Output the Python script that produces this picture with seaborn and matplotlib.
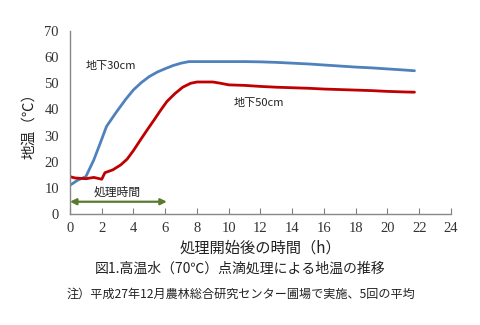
import matplotlib
matplotlib.use("Agg")
import matplotlib.pyplot as plt
import seaborn as sns
import pandas as pd

sns.set_theme(style="white")
plt.rcParams['font.family'] = ['Noto Sans CJK JP', 'DejaVu Sans']

hours_30 = [0, 0.5, 1.0, 1.5, 1.9, 2.3, 2.9, 3.5, 4.0, 4.5, 5.0, 5.5, 6.0, 6.5, 7.0, 7.5,
            8, 9, 10, 11, 12, 13, 14, 15, 16, 17, 18, 19, 20, 21, 21.7]
temp_30 = [11.0, 13.0, 14.3, 20.7, 27.0, 33.5, 38.8, 43.8, 47.5, 50.3, 52.6, 54.3, 55.6, 56.8, 57.7, 58.3,
           58.3, 58.3, 58.3, 58.3, 58.2, 58.0, 57.7, 57.4, 57.0, 56.6, 56.2, 55.9, 55.5, 55.1, 54.8]

hours_50 = [0, 0.3, 1.0, 1.5, 2.0, 2.2, 2.7, 3.2, 3.6, 4.0, 4.4, 4.9, 5.3, 5.7, 6.1, 6.6, 7.1, 7.6,
            8, 9, 9.5, 10, 11, 12, 13, 14, 15, 16, 17, 18, 19, 20, 21, 21.7]
temp_50 = [14.3, 13.8, 13.5, 14.0, 13.3, 15.8, 16.9, 18.8, 21.0, 24.3, 28.0, 32.5, 36.0, 39.6, 43.0, 46.0, 48.5, 50.0,
           50.5, 50.5, 50.0, 49.4, 49.2, 48.8, 48.5, 48.3, 48.1, 47.8, 47.6, 47.4, 47.2, 46.9, 46.7, 46.6]

series_names = ['地下30cm', '地下50cm']
x_ticks = list(range(0, 25, 2))
y_ticks = list(range(0, 71, 10))

df = pd.DataFrame({
    'h': hours_30 + hours_50,
    't': temp_30 + temp_50,
    's': [series_names[0]] * len(hours_30) + [series_names[1]] * len(hours_50),
})

fig = plt.figure(figsize=(4.81, 3.25), dpi=100)
ax = fig.add_axes([0.1455, 0.3415, 0.7921, 0.5631])

sns.lineplot(data=df, x='h', y='t', hue='s', palette=['#4F81BD', '#C00000'],
             linewidth=2.0, legend=False, ax=ax, sort=False)

ax.set_xlim(0, 24)
ax.set_ylim(0, 70)
ax.set_xticks(x_ticks)
ax.set_yticks(y_ticks)
tick_font = {'family': ['Liberation Serif', 'DejaVu Serif'], 'size': 10.5}
ax.set_xticklabels([str(v) for v in x_ticks], fontdict=tick_font, color='#333333')
ax.set_yticklabels([str(v) for v in y_ticks], fontdict=tick_font, color='#333333')
ax.tick_params(axis='x', direction='in', length=4, width=0.8, color='#808080', pad=6, bottom=True)
ax.tick_params(axis='y', length=0, pad=8)
for side in ['top', 'right']:
    ax.spines[side].set_visible(False)
for side in ['left', 'bottom']:
    ax.spines[side].set_color('#888888')
    ax.spines[side].set_linewidth(1.0)

ax.set_xlabel('処理開始後の時間（h）', fontsize=11, color='#222222', labelpad=3)
ax.set_ylabel('地温（℃）', fontsize=10.5, color='#222222', labelpad=6)

ax.text(1.0, 56.5, series_names[0], fontsize=8, va='center', ha='left', color='#222222')
ax.text(10.3, 42.5, series_names[1], fontsize=8, va='center', ha='left', color='#222222')

ax.annotate('', xy=(0, 4.7), xytext=(6.1, 4.7),
            arrowprops=dict(arrowstyle='<|-|>', color='#5A7A2E', lw=1.6,
                            mutation_scale=9, shrinkA=0, shrinkB=0))
ax.text(3.0, 8.5, '処理時間', fontsize=8.5, ha='center', va='center', color='#222222')

fig.text(0.5, 1 - 269 / 325, '図1.高温水（70℃）点滴処理による地温の推移', fontsize=10,
         ha='center', va='center', color='#222222')
fig.text(0.5, 1 - 294 / 325, '注）平成27年12月農林総合研究センター圃場で実施、5回の平均', fontsize=8.7,
         ha='center', va='center', color='#222222')

fig.savefig('out.png', dpi=100)
